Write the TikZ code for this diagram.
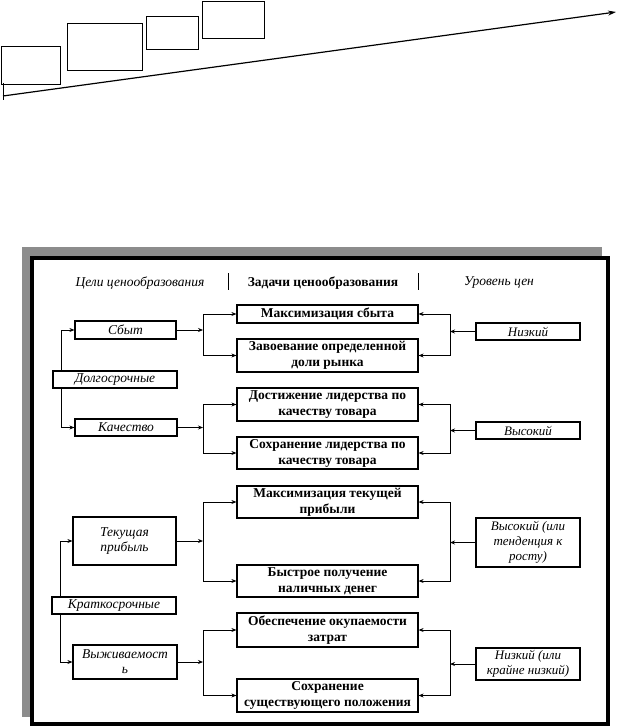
\documentclass[tikz,border=0pt]{standalone}
\usepackage{fontspec}
\setmainfont{Liberation Serif}
\usetikzlibrary{arrows.meta,calc}
\begin{document}
\begin{tikzpicture}[x=1pt,y=-1pt,
  plain/.style={draw,line width=0.9pt},
  gbox/.style={draw,line width=1.2pt,inner sep=0.5pt,align=center,font=\fontsize{13.5}{15}\selectfont\itshape},
  tbox/.style={draw,line width=1.2pt,inner sep=0.5pt,align=center,minimum width=181pt,font=\fontsize{13.5}{16}\selectfont\bfseries},
  lbox/.style={draw,line width=1.2pt,inner sep=0.5pt,align=center,minimum width=104pt,font=\fontsize{13}{15}\selectfont\itshape},
  hdr/.style={inner sep=0pt},
  arr/.style={line width=0.9pt,-{Stealth[length=5pt,width=4pt]}},
  ln/.style={line width=0.9pt}]
\useasboundingbox (0,0) rectangle (617,727);
% top sketch
\draw[plain] (1,46) rectangle (60,84);
\draw[plain] (67,23) rectangle (142,70);
\draw[plain] (146,16) rectangle (198,49);
\draw[plain] (202,1) rectangle (264,38);
\coordinate (a0) at (3,96);
\coordinate (a1) at (616,12);
\coordinate (tk0) at (3,83);
\coordinate (tk1) at (3,100);
\draw[line width=1.2pt,-{Stealth[length=8pt,width=5pt]}] (a0) -- (a1);
\draw[line width=0.9pt] (tk0) -- (tk1);
% frame
\fill[black!45] (22,247) rectangle (602,717);
\draw[line width=3.5pt,fill=white] (32,258) rectangle (608,724);
% headers
\node[hdr,font=\fontsize{13.5}{15}\selectfont\itshape] (h1) at (140,283) {Цели ценообразования};
\node[hdr,font=\fontsize{13.5}{15}\selectfont\bfseries] (h2) at (323,283) {Задачи ценообразования};
\node[hdr,font=\fontsize{13.5}{15}\selectfont\itshape] (h3) at (499,283) {Уровень цен};
\coordinate (s1a) at (228,273); \coordinate (s1b) at (228,290);
\coordinate (s2a) at (418,273); \coordinate (s2b) at (418,290);
\draw[ln] (s1a) -- (s1b);
\draw[ln] (s2a) -- (s2b);
% goals
\node[gbox,minimum width=101pt,minimum height=18pt] (sbyt) at (125.5,330) {Сбыт};
\node[gbox,minimum width=124pt,minimum height=17pt] (dolg) at (115,379.5) {Долгосрочные};
\node[gbox,minimum width=102pt,minimum height=17pt] (kach) at (126,427.5) {Качество};
\node[gbox,minimum width=103pt,minimum height=48pt] (tek) at (124.5,541) {Текущая\\прибыль};
\node[gbox,minimum width=124pt,minimum height=17pt] (krat) at (114,605.5) {Краткосрочные};
\node[gbox,minimum width=104pt,minimum height=34pt] (vyzh) at (125,662) {Выживаемост\\ь};
% tasks
\node[tbox,minimum height=18pt] (t1) at (327.5,314) {Максимизация сбыта};
\node[tbox,minimum height=33pt] (t2) at (327.5,355.5) {Завоевание определенной\\доли рынка};
\node[tbox,minimum height=33pt] (t3) at (327.5,404.5) {Достижение лидерства по\\качеству товара};
\node[tbox,minimum height=32pt] (t4) at (327.5,453) {Сохранение лидерства по\\качеству товара};
\node[tbox,minimum height=32pt] (t5) at (327.5,502) {Максимизация текущей\\прибыли};
\node[tbox,minimum height=32pt] (t6) at (327.5,581) {Быстрое получение\\наличных денег};
\node[tbox,minimum height=34pt] (t7) at (327.5,630) {Обеспечение окупаемости\\затрат};
\node[tbox,minimum height=33pt] (t8) at (327.5,695.5) {Сохранение\\существующего положения};
% levels
\node[lbox,minimum height=17pt] (l1) at (528,331.5) {Низкий};
\node[lbox,minimum height=17pt] (l2) at (528,430.5) {Высокий};
\node[lbox,minimum height=49pt] (l3) at (528,542.5) {Высокий (или\\тенденция к\\росту)};
\node[lbox,minimum height=32pt] (l4) at (528,664) {Низкий (или\\крайне низкий)};
% goal -> tasks
\coordinate (jg1) at (203,330);
\coordinate (jg2) at (203,427.5);
\coordinate (jg3) at (203,541);
\coordinate (jg4) at (203,662);
\draw[arr] (sbyt.east) -- (jg1);
\draw[arr] (jg1) |- (t1.west);
\draw[arr] (jg1) |- (t2.west);
\draw[arr] (kach.east) -- (jg2);
\draw[arr] (jg2) |- (t3.west);
\draw[arr] (jg2) |- (t4.west);
\draw[arr] (tek.east) -- (jg3);
\draw[arr] (jg3) |- (t5.west);
\draw[arr] (jg3) |- (t6.west);
\draw[arr] (vyzh.east) -- (jg4);
\draw[arr] (jg4) |- (t7.west);
\draw[arr] (jg4) |- (t8.west);
% level -> tasks
\coordinate (jl1) at (450,331.5);
\coordinate (jl2) at (450,430.5);
\coordinate (jl3) at (450,542.5);
\coordinate (jl4) at (450,664);
\draw[arr] (l1.west) -- (jl1);
\draw[arr] (jl1) |- (t1.east);
\draw[arr] (jl1) |- (t2.east);
\draw[arr] (l2.west) -- (jl2);
\draw[arr] (jl2) |- (t3.east);
\draw[arr] (jl2) |- (t4.east);
\draw[arr] (l3.west) -- (jl3);
\draw[arr] (jl3) |- (t5.east);
\draw[arr] (jl3) |- (t6.east);
\draw[arr] (l4.west) -- (jl4);
\draw[arr] (jl4) |- (t7.east);
\draw[arr] (jl4) |- (t8.east);
% horizon -> goals
\draw[arr] (dolg.north -| 61,0) |- (sbyt.west);
\draw[arr] (dolg.south -| 61,0) |- (kach.west);
\draw[arr] (krat.north -| 60,0) |- (tek.west);
\draw[arr] (krat.south -| 60,0) |- (vyzh.west);
\end{tikzpicture}
\end{document}
